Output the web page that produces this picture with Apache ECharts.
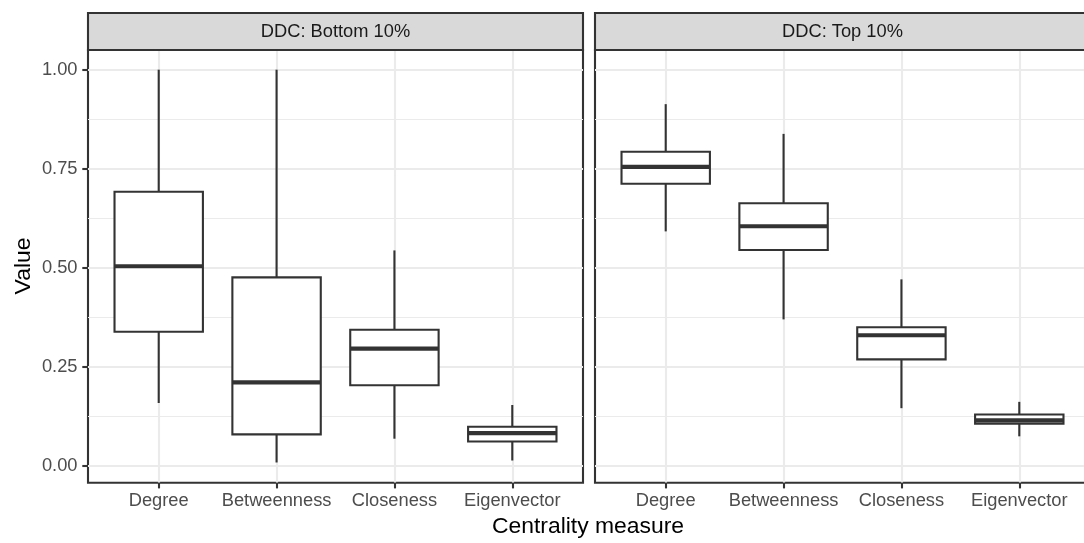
<!DOCTYPE html>
<html>
<head>
<meta charset="utf-8">
<script src="https://cdn.jsdelivr.net/npm/echarts@6/dist/echarts.min.js"></script>
<style>
html,body{margin:0;padding:0;background:#fff;}
#chart{width:1084px;height:543px;}
</style>
</head>
<body>
<div id="chart"></div>
<script>
// ---- data ----
const categories = ['Degree', 'Betweenness', 'Closeness', 'Eigenvector'];
const facetLabels = ['DDC: Bottom 10%', 'DDC: Top 10%'];
const yTicks = [0, 0.25, 0.5, 0.75, 1.0];
const yMinorTicks = [0.125, 0.375, 0.625, 0.875];
const xTitle = 'Centrality measure';
const yTitle = 'Value';
// [lower whisker, Q1, median, Q3, upper whisker]
const bottom10 = [
  [0.159, 0.339, 0.504, 0.692, 1.000],
  [0.009, 0.080, 0.211, 0.476, 1.000],
  [0.069, 0.204, 0.296, 0.344, 0.544],
  [0.014, 0.062, 0.083, 0.099, 0.154]
];
const top10 = [
  [0.592, 0.712, 0.755, 0.793, 0.913],
  [0.370, 0.545, 0.605, 0.663, 0.838],
  [0.146, 0.269, 0.330, 0.350, 0.471],
  [0.075, 0.107, 0.115, 0.130, 0.162]
];

// ---- layout ----
const FONT = 'Liberation Sans, Arial, Helvetica, sans-serif';
const yMin = -0.042, yMax = 1.0496;
const xMin = 0.4, xMax = 4.6;
const panels = [
  {left: 88, top: 50, width: 495, height: 432.7},
  {left: 595, top: 50, width: 495, height: 432.7}
];
const INK = '#333333';
const GRID = '#EBEBEB';

const catIndex = categories.map((c, i) => i + 1);

function renderBox(params, api) {
  const x = api.value(0);
  const lo = api.coord([x, api.value(1)]);
  const q1 = api.coord([x, api.value(2)]);
  const med = api.coord([x, api.value(3)]);
  const q3 = api.coord([x, api.value(4)]);
  const hi = api.coord([x, api.value(5)]);
  const w = api.size([0.75, 0])[0];
  const cx = lo[0];
  const ls = {stroke: INK, lineWidth: 2.1, fill: null};
  return {
    type: 'group',
    children: [
      {type: 'line', shape: {x1: cx, y1: hi[1], x2: cx, y2: q3[1]}, style: ls},
      {type: 'line', shape: {x1: cx, y1: q1[1], x2: cx, y2: lo[1]}, style: ls},
      {type: 'rect', shape: {x: cx - w / 2, y: q3[1], width: w, height: q1[1] - q3[1]},
        style: {stroke: INK, lineWidth: 2.1, fill: '#ffffff'}},
      {type: 'line', shape: {x1: cx - w / 2, y1: med[1], x2: cx + w / 2, y2: med[1]},
        style: {stroke: INK, lineWidth: 4.2}}
    ]
  };
}

const grids = panels.map(p => ({
  left: p.left, top: p.top, width: p.width, height: p.height,
  outerBoundsMode: 'none', containLabel: false,
  show: true, borderColor: INK, borderWidth: 2.1, backgroundColor: '#ffffff', z: 0
}));

const xAxes = panels.map((p, gi) => ({
  type: 'value', gridIndex: gi, min: xMin, max: xMax, position: 'bottom',
  axisLine: {show: false, onZero: false},
  axisTick: {show: true, inside: false, customValues: catIndex, length: 5.7, lineStyle: {color: INK, width: 2.1}},
  axisLabel: {show: true, customValues: catIndex, margin: 9, color: '#4D4D4D',
    fontSize: 18.3, fontFamily: FONT,
    formatter: v => categories[Math.round(v) - 1] || ''},
  splitLine: {show: true, lineStyle: {color: GRID, width: 2.1}}
}));

const yAxes = [];
panels.forEach((p, gi) => {
  yAxes.push({
    type: 'value', gridIndex: gi, min: yMin, max: yMax, position: 'left',
    axisLine: {show: false, onZero: false},
    axisTick: {show: gi === 0, inside: false, customValues: yTicks, length: 5.7, lineStyle: {color: INK, width: 2.1}},
    axisLabel: {show: gi === 0, customValues: yTicks, margin: 10.5, color: '#4D4D4D',
      fontSize: 18.3, fontFamily: FONT, formatter: v => v.toFixed(2)},
    splitLine: {show: true, lineStyle: {color: GRID, width: 2.1}}
  });
  yAxes.push({
    type: 'value', gridIndex: gi, min: yMin, max: yMax, position: 'left',
    axisLine: {show: false, onZero: false},
    axisTick: {show: false, customValues: yMinorTicks},
    axisLabel: {show: false, customValues: yMinorTicks},
    splitLine: {show: true, lineStyle: {color: GRID, width: 1.05}}
  });
});

const series = [bottom10, top10].map((vals, gi) => ({
  type: 'custom',
  name: facetLabels[gi],
  xAxisIndex: gi, yAxisIndex: gi * 2,
  renderItem: renderBox,
  dimensions: ['x', 'low', 'q1', 'median', 'q3', 'high'],
  encode: {x: 0, y: [1, 2, 3, 4, 5]},
  data: vals.map((v, i) => [catIndex[i]].concat(v)),
  z: 5
}));

const graphics = [];
panels.forEach((p, gi) => {
  graphics.push({
    type: 'rect', shape: {x: p.left, y: 13, width: p.width, height: p.top - 13},
    style: {fill: '#D9D9D9', stroke: INK, lineWidth: 2.1}, z: 10
  });
  graphics.push({
    type: 'text', x: p.left + p.width / 2, y: 31.5, z: 11,
    style: {text: facetLabels[gi], fill: '#1A1A1A', font: '18.3px ' + FONT,
      align: 'center', verticalAlign: 'middle', textAlign: 'center', textVerticalAlign: 'middle'}
  });
});
graphics.push({
  type: 'text', x: 588, y: 527, z: 11,
  style: {text: xTitle, fill: '#000000', font: '22.9px ' + FONT,
    align: 'center', verticalAlign: 'middle', textAlign: 'center', textVerticalAlign: 'middle'}
});
graphics.push({
  type: 'text', x: 24, y: 266, rotation: Math.PI / 2, z: 11,
  style: {text: yTitle, fill: '#000000', font: '22.9px ' + FONT,
    align: 'center', verticalAlign: 'middle', textAlign: 'center', textVerticalAlign: 'middle'}
});

const chart = echarts.init(document.getElementById('chart'), null, {renderer: 'canvas'});
chart.setOption({
  animation: false,
  backgroundColor: '#ffffff',
  grid: grids,
  xAxis: xAxes,
  yAxis: yAxes,
  series: series,
  graphic: graphics
});
</script>
</body>
</html>
